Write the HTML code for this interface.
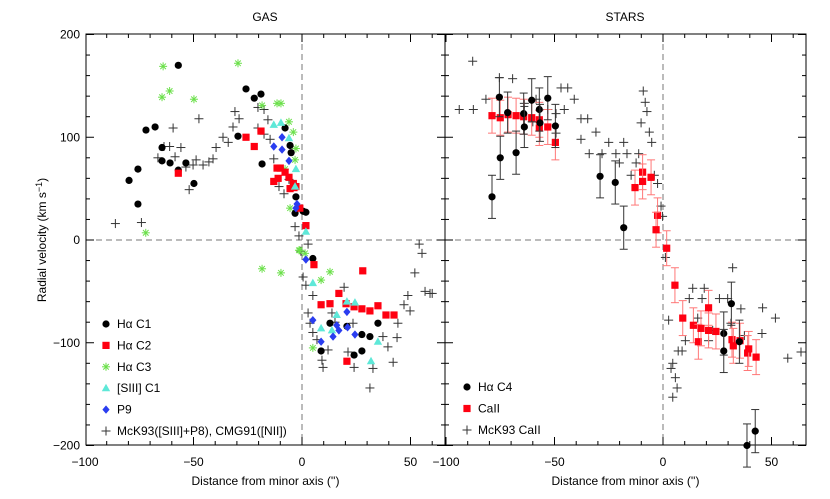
<!DOCTYPE html>
<html><head><meta charset="utf-8"><style>
html,body{margin:0;padding:0;background:#fff}
svg{display:block;font-family:"Liberation Sans",sans-serif}
</style></head><body>
<svg id="chart" width="830" height="499">
<rect width="830" height="499" fill="#fff"/>
</svg>
<script>
// ---- data (distance in arcsec, velocity km/s) ----
const gasC1X=[-79.7,-75.6,-75.6,-71.9,-67.7,-64.5,-64.5,-60.8,-53.5,-57,-49.8,-57,-25.8,-22,-18.9,-29.5,-18.4,-7.8,-5.5,-5,-2.8,-3.2,0.5,1.8,5,12.9,8.8,27.6,31.3,35,24,27.6,20.7];
const gasC1V=[58,69,35,107,110,90,77,75,75,68,55,170,147,138,142,101,74,109,92,85,42,26,28,27,-18,-81,-108,-92,-94,-81,-112,-108,-84];
const gasC2X=[-57,-25.8,-22,-18.9,-11.5,-10,-13,-11,-7.8,-6,-4,-2.8,-5.5,-3.7,-1,1.8,5.5,28,17,8.8,12.9,20.3,24,27.6,31.3,35,38.7,42.4,20.7];
const gasC2V=[65,100,91,106,70,70,57,60,66,61,55,52,50,51,31,14,-24,-30,-52,-63,-62,-62,-65,-67,-69,-64,-73,-73,-118];
const gasC3X=[-64,-61,-64.5,-49.8,-29.5,-72,-18.4,-11.5,-9.7,-6,-4,-2.8,-3.2,-7.8,-5.5,-1.4,-18.4,-9.7,-1,1.4,8.8,12.9,5];
const gasC3V=[169,145,139,137,172,7,131,133,133,115,105,89,78,69,31,-10,-28,-32,-10,-13,-39,-31,-105];
const siiiX=[-13,-9.7,-6,-2.8,-3.2,1.8,5,20.7,24.4,16,8.8,13.8,35,31.8];
const siiiV=[112,114,99,69,52,8,-42,-60,-61,-73,-86,-88,-99,-118];
const p9X=[-9.2,-13,-9.2,-6,-2.3,-2.8,1.8,5,20.7,21,16,17,14.3,8.8,24.4];
const p9V=[100,91,88,77,35,31,-19,-78,-70,-85,-83,-88,-94,-99,-92];
const mckGasX=[-86,-74,-59.4,-47.5,-63.6,-61,-55.8,-66.4,-58.5,-53.5,-50.2,-48.8,-45.6,-42.9,-41,-39.6,-36.4,-34,-31.8,-30.9,-29,-52,-20.3,-17.5,-15.7,-20.3,-17.5,-14.7,-13,-10.6,-8.3,-6,-3.2,-1.4,-0.5,2.8,0.5,1.8,5,2.8,3.7,5,6.9,9.2,9.7,12,13.8,15.2,19.4,23.5,21.2,24,32.7,31.3,37.3,39.6,42,43.8,44.2,47,49.8,48.8,52,56.7,59,54,55.3,60];
const mckGasV=[16,17,109,118,91,91,90,80,81,71,73,78,73,76,79,90,100,95,110,125,118,49,129,127,117,109,103,98,79,52,45,59,13,4,-11,-4,-36,-44,-54,-71,-81,-90,-97,-117,-124,-107,-71,-80,-46,-81,-109,-124,-125,-144,-94,-104,-119,-95,-81,-63,-69,-54,-32,-50,-52,-4,-13,-52];
const starC4X=[-75.4,-78.8,-75,-71.6,-67.7,-64.2,-63.9,-60.5,-57,-56.7,-53.1,-49.6,-29,-22,-18.1,31.5,28,28,35.2,38.7,42.5];
const starC4V=[139,42,80,124,85,123,110,136,127,114,138,111,62,56,12,-62,-91,-108,-99,-200,-186];
const starC4Err=[19,21,21,20,21,20,20,21,21,18,21,21,21,21,21,21,21,21,21,21,21];
const caX=[-78.8,-75,-71.4,-67.7,-64.2,-60.5,-57,-57,-53.1,-49.6,-12.9,-9.4,-9.4,-5.5,-2.5,-3.2,1.7,5.5,9.1,14,16.3,17.5,21,21,24.4,31.8,32.4,35.5,39,39.5,42.9];
const caV=[121,119,122,121,120,119,117,109,110,95,51,66,57,61,24,10,-8,-44,-76,-83,-99,-86,-66,-88,-89,-97,-103,-98,-110,-106,-114];
const caErr=[17,17,17,17,17,17,17,17,17,17,17,17,17,17,17,17,17,17,17,17,17,17,17,17,17,17,17,17,17,17,17];
const mckCaX=[-93.9,-87.7,-87.4,-81.6,-75.4,-69.3,-63.9,-58.5,-60,-53.1,-49.3,-49.3,-47,-43.9,-45.5,-40.9,-37.8,-34.7,-37.8,-34,-30.9,-28.1,-25,-21.7,-18.1,-16.6,-11.2,-20.1,-14.7,-12.4,-10.1,-9.1,-8.2,-7.4,-6.3,-5.2,-4,-2.5,-0.9,-0.2,1.1,2.6,3.7,4.5,5.7,6.5,4.5,7,8.8,10.3,12.1,13.7,18,19,16,21,22.9,26,29.8,32.1,35.9,37.5,45.6,45.9,51.8,57.5,63.6,31.3];
const mckCaV=[127,174,127,137,158,157,133,137,115,127,123,104,148,148,127,137,118,118,98,84,105,84,95,84,95,84,84,75,63,75,114,145,134,125,105,95,63,55,33,23,-17,-78,-125,-120,-134,-144,-153,-108,-108,-98,-57,-47,-57,-47,-76,-98,-88,-57,-57,-27,-67,-93,-91,-66,-76,-115,-109,-81];
const xTicks=[-100,-50,0,50];
const yTicks=[-200,-100,0,100,200];

// ---- axes ----
const NS="http://www.w3.org/2000/svg";
const svg=document.getElementById('chart');
const TOP=34,BOT=445;
const yS=v=>240-v*(BOT-TOP)/400;
const panels={gas:{x0:86,x1:445,zero:302},stars:{x0:445,x1:806,zero:663}};
const PX=2.17;
const xG=d=>panels.gas.zero+d*PX;
const xS=d=>panels.stars.zero+d*PX;
function el(tag,attrs,parent){const e=document.createElementNS(NS,tag);for(const k in attrs)e.setAttribute(k,attrs[k]);(parent||svg).appendChild(e);return e;}

function drawPanel(p,xf,name){
  const g=el('g',{});
  
  
  el('rect',{x:p.x0,y:TOP,width:p.x1-p.x0,height:BOT-TOP,fill:'none',stroke:'#000','stroke-width':1},g);
  el('line',{x1:xf(0),x2:xf(0),y1:TOP,y2:BOT,stroke:'#777','stroke-dasharray':'6,4'},g);
  el('line',{x1:p.x0,x2:p.x1,y1:yS(0),y2:yS(0),stroke:'#777','stroke-dasharray':'6,4'},g);
  for(let d=-100;d<=70;d+=10){const x=xf(d);if(x<p.x0-0.5||x>p.x1+0.5)continue;const L=d%50===0?8:4;
    el('line',{x1:x,x2:x,y1:BOT,y2:BOT-L,stroke:'#000'},g);el('line',{x1:x,x2:x,y1:TOP,y2:TOP+L,stroke:'#000'},g);}
  for(let v=-200;v<=200;v+=20){const y=yS(v);const L=v%100===0?8:4;
    el('line',{x1:p.x0,x2:p.x0+L,y1:y,y2:y,stroke:'#000'},g);el('line',{x1:p.x1,x2:p.x1-L,y1:y,y2:y,stroke:'#000'},g);}
  xTicks.forEach(t=>{const x=xf(t);if(x<p.x0-2||x>p.x1+2)return;const tx=el('text',{x:x,y:466,'text-anchor':'middle','font-size':12},g);tx.textContent=t===0?'0':(t<0?'\u2212'+(-t):t);});
  const xl=el('text',{x:(p.x0+p.x1)/2,y:485,'text-anchor':'middle','font-size':12},g);xl.textContent="Distance from minor axis ('')";
  
}
drawPanel(panels.gas,xG,'gas');
drawPanel(panels.stars,xS,'stars');
yTicks.forEach(t=>{const tx=el('text',{x:80,y:yS(t)+4,'text-anchor':'end','font-size':12});tx.textContent=t<0?'\u2212'+(-t):t;});
const yt=el('text',{x:46,y:240,'text-anchor':'middle','font-size':12,transform:'rotate(-90 46 240)'});
yt.innerHTML='Radial velocity (km s<tspan dy="-4" font-size="9">\u22121</tspan><tspan dy="4">)</tspan>';

const t1=el('text',{x:265,y:21,'text-anchor':'middle','font-size':12});t1.textContent='GAS';

const t2=el('text',{x:625,y:21,'text-anchor':'middle','font-size':12});t2.textContent='STARS';


// ---- markers ----
function mk(type,x,y,parent){
  if(type==='circle')return el('circle',{cx:x,cy:y,r:3.6,fill:'#000'},parent);
  if(type==='square')return el('rect',{x:x-3.6,y:y-3.6,width:7.2,height:7.2,fill:'#f01'},parent);
  if(type==='tri')return el('polygon',{points:`${x},${y-4.5} ${x+4.2},${y+3} ${x-4.2},${y+3}`,fill:'#5ee8d8'},parent);
  if(type==='diamond')return el('polygon',{points:`${x},${y-4.2} ${x+3.6},${y} ${x},${y+4.2} ${x-3.6},${y}`,fill:'#2a3df0'},parent);
  if(type==='plus'){const g=el('g',{stroke:'#333','stroke-width':1},parent);el('line',{x1:x-4.5,x2:x+4.5,y1:y,y2:y},g);el('line',{x1:x,x2:x,y1:y-4.5,y2:y+4.5},g);return g;}
  if(type==='star'){const g=el('g',{stroke:'#6be04a','stroke-width':1},parent);const r=4;
    el('line',{x1:x-r,x2:x+r,y1:y,y2:y},g);el('line',{x1:x,x2:x,y1:y-r,y2:y+r},g);
    el('line',{x1:x-r*.7,x2:x+r*.7,y1:y-r*.7,y2:y+r*.7},g);el('line',{x1:x-r*.7,x2:x+r*.7,y1:y+r*.7,y2:y-r*.7},g);return g;}
}
function series(name,type,X,V,xf,err,errColor){
  const g=el('g',{});
  
  
  X.forEach((d,i)=>{const x=xf(d),y=yS(V[i]);
    if(err){const e=err[i]*(BOT-TOP)/400;const eg=el('g',{stroke:errColor,'stroke-width':1},g);
      el('line',{x1:x,x2:x,y1:y-e,y2:y+e},eg);el('line',{x1:x-4,x2:x+4,y1:y-e,y2:y-e},eg);el('line',{x1:x-4,x2:x+4,y1:y+e,y2:y+e},eg);}
    const m=mk(type,x,y,g);
    
    
  });
}
series('mck93-gas','plus',mckGasX,mckGasV,xG);
series('halpha-c3','star',gasC3X,gasC3V,xG);
series('halpha-c1','circle',gasC1X,gasC1V,xG);
series('halpha-c2','square',gasC2X,gasC2V,xG);
series('siii-c1','tri',siiiX,siiiV,xG);
series('p9','diamond',p9X,p9V,xG);
series('mck93-caii','plus',mckCaX,mckCaV,xS);
series('caii','square',caX,caV,xS,caErr,'#f77');
series('halpha-c4','circle',starC4X,starC4V,xS,starC4Err,'#333');

// ---- legends ----
function legend(items,x,y0,dy,name){
  const g=el('g',{});
  
  
  items.forEach((it,i)=>{const y=y0+i*dy;mk(it[0],x,y,g);const t=el('text',{x:x+11,y:y+4,'font-size':12},g);t.textContent=it[1];
    });
}
legend([['circle','H\u03b1 C1'],['square','H\u03b1 C2'],['star','H\u03b1 C3'],['tri','[SIII] C1'],['diamond','P9'],['plus','McK93([SIII]+P8), CMG91([NII])']],106,324,21.4,'gas-legend');
legend([['circle','H\u03b1 C4'],['square','CaII'],['plus','McK93 CaII']],467,387,21.5,'stars-legend');
</script>
</body></html>
